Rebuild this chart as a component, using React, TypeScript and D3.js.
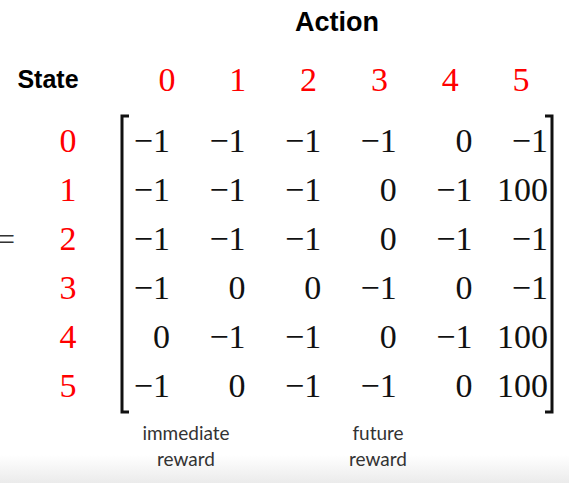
import React from "react";
import * as d3 from "d3";

const states = ["0", "1", "2", "3", "4", "5"];
const actions = ["0", "1", "2", "3", "4", "5"];
const rewards: number[][] = [
  [-1, -1, -1, -1, 0, -1],
  [-1, -1, -1, 0, -1, 100],
  [-1, -1, -1, 0, -1, -1],
  [-1, 0, 0, -1, 0, -1],
  [0, -1, -1, 0, -1, 100],
  [-1, 0, -1, -1, 0, 100],
];
const notes = [
  { col: 1, lines: ["immediate", "reward"] },
  { col: 4, lines: ["future", "reward"] },
];

const W = 569;
const H = 483;

export default function App() {
  // right edge of each matrix column (values are right aligned)
  const colRight = d3.scalePoint<string>().domain(actions).range([170, 548]);
  const headerX = d3.scalePoint<string>().domain(actions).range([167, 521]);
  const rowY = d3.scalePoint<string>().domain(states).range([140, 385]);
  const fmt = (v: number) => (v < 0 ? "\u2212" + Math.abs(v) : String(v));
  const serif = "'Liberation Serif', 'DejaVu Serif', serif";
  const sans = "'Liberation Sans', Arial, sans-serif";
  const lato = "Lato, 'Open Sans', sans-serif";

  const bTop = 116;
  const bBot = 412;

  return (
    <svg width={W} height={H} style={{ position: "absolute", left: 0, top: 0 }}>
      <defs>
        <linearGradient id="fade" x1="0" y1="0" x2="0" y2="1">
          <stop offset="0" stopColor="#ffffff" />
          <stop offset="1" stopColor="#ebebeb" />
        </linearGradient>
      </defs>
      <rect width={W} height={H} fill="#fff" />
      <rect y={455} width={W} height={28} fill="url(#fade)" />

      <text x={337} y={31} textAnchor="middle" fontFamily={sans} fontWeight="bold" fontSize={27}>
        Action
      </text>
      <text x={48} y={88} textAnchor="middle" fontFamily={sans} fontWeight="bold" fontSize={25}>
        State
      </text>
      {actions.map((a) => (
        <text key={a} x={headerX(a)} y={91} textAnchor="middle" fontFamily={serif} fontSize={34} fill="#f00">
          {a}
        </text>
      ))}
      {states.map((s) => (
        <text key={s} x={68} y={rowY(s)! + 12} textAnchor="middle" fontFamily={serif} fontSize={34} fill="#f00">
          {s}
        </text>
      ))}
      <text x={6} y={250} textAnchor="middle" fontFamily={serif} fontSize={32} fill="#333">
        =
      </text>

      {/* brackets */}
      <path d={`M129,${bTop} H122 V${bBot} H129`} fill="none" stroke="#111" strokeWidth={3} />
      <path d={`M545,${bTop} H552 V${bBot} H545`} fill="none" stroke="#111" strokeWidth={3} />

      {rewards.map((row, i) =>
        row.map((v, j) => (
          <text
            key={i + "-" + j}
            x={colRight(actions[j])}
            y={rowY(states[i])! + 12}
            textAnchor="end"
            fontFamily={serif}
            fontSize={34}
            fill="#111"
          >
            {fmt(v)}
          </text>
        ))
      )}

      {notes.map((n) =>
        n.lines.map((l, k) => (
          <text
            key={n.col + l}
            x={n.col === 1 ? 186 : 378}
            y={440 + k * 26}
            textAnchor="middle"
            fontFamily={lato}
            fontSize={19}
            fill="#333"
          >
            {l}
          </text>
        ))
      )}
    </svg>
  );
}
